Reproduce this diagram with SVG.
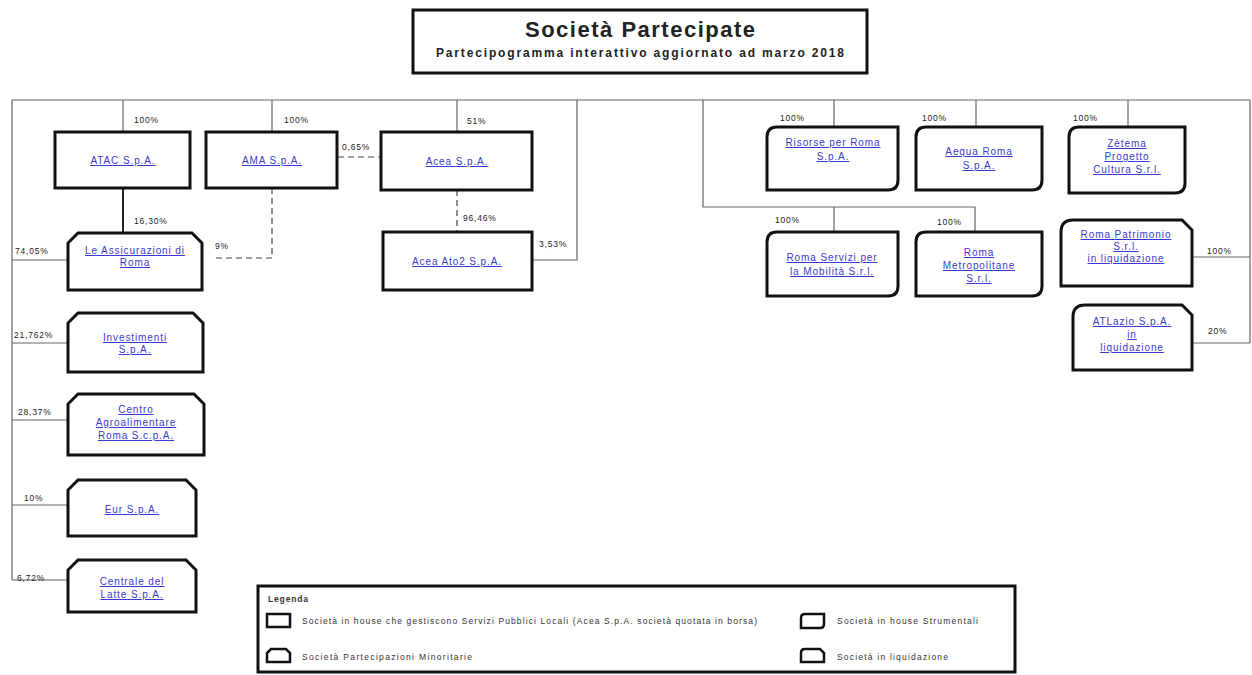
<svg xmlns="http://www.w3.org/2000/svg" width="1252" height="675" viewBox="0 0 1252 675">
<style>
.bg{fill:#fff}
.node{fill:#fff;stroke:#111;stroke-width:3}
.ln{fill:none;stroke:#666;stroke-width:1.2}
.lnd{fill:none;stroke:#444;stroke-width:1.2;stroke-dasharray:6,4}
.lnk{fill:none;stroke:#222;stroke-width:2}
.t{font-family:"Liberation Sans",Arial,sans-serif;font-size:10px;letter-spacing:0.9px;fill:#3a3ad0;text-decoration:underline;text-anchor:middle}
.p{font-family:"Liberation Sans",Arial,sans-serif;font-size:8.5px;letter-spacing:0.8px;fill:#222}
.lg{font-family:"Liberation Sans",Arial,sans-serif;font-size:8.5px;fill:#333}
.title{font-family:"Liberation Sans",Arial,sans-serif;font-weight:bold;fill:#222;text-anchor:middle}
</style>
<rect class="bg" x="0" y="0" width="1252" height="675"/>

<g id="title">
<rect x="413" y="10" width="454" height="63" fill="#fff" stroke="#111" stroke-width="3"/>
<text class="title" x="640" y="37" font-size="22" textLength="230" lengthAdjust="spacing">Società Partecipate</text>
<text class="title" x="640" y="57" font-size="12" textLength="408" lengthAdjust="spacing">Partecipogramma interattivo aggiornato ad marzo 2018</text>
</g>

<g id="connectors">
<polyline class="ln" points="12,580 12,100 1250,100 1250,343"/>
<line class="ln" x1="123" y1="100" x2="123" y2="132"/>
<line class="ln" x1="272" y1="100" x2="272" y2="132"/>
<line class="ln" x1="457" y1="100" x2="457" y2="132"/>
<polyline class="ln" points="577,100 577,260 532,260"/>
<polyline class="ln" points="703,100 703,207 975,207 975,232"/>
<line class="ln" x1="834" y1="207" x2="834" y2="232"/>
<line class="ln" x1="834" y1="100" x2="834" y2="127"/>
<line class="ln" x1="976" y1="100" x2="976" y2="127"/>
<line class="ln" x1="1128" y1="100" x2="1128" y2="127"/>
<line class="ln" x1="1192" y1="257" x2="1250" y2="257"/>
<line class="ln" x1="1192" y1="343" x2="1250" y2="343"/>
<line class="ln" x1="12" y1="260" x2="68" y2="260"/>
<line class="ln" x1="12" y1="343" x2="68" y2="343"/>
<line class="ln" x1="12" y1="420" x2="68" y2="420"/>
<line class="ln" x1="12" y1="505" x2="68" y2="505"/>
<line class="ln" x1="12" y1="580" x2="68" y2="580"/>
<line class="lnk" x1="123" y1="188" x2="123" y2="233"/>
<polyline class="lnd" points="272,188 272,258 212,258"/>
<line class="lnd" x1="457" y1="190" x2="457" y2="232"/>
<line class="lnd" x1="338" y1="157" x2="381" y2="157"/>
<text class="p" x="134" y="123">100%</text>
<text class="p" x="284" y="123">100%</text>
<text class="p" x="467" y="124">51%</text>
<text class="p" x="342" y="150">0,65%</text>
<text class="p" x="134" y="224">16,30%</text>
<text class="p" x="215" y="249">9%</text>
<text class="p" x="463" y="221">96,46%</text>
<text class="p" x="539" y="247">3,53%</text>
<text class="p" x="15" y="254">74,05%</text>
<text class="p" x="14" y="338">21,762%</text>
<text class="p" x="18" y="415">28,37%</text>
<text class="p" x="24" y="501">10%</text>
<text class="p" x="17" y="581">6,72%</text>
<text class="p" x="780" y="121">100%</text>
<text class="p" x="922" y="121">100%</text>
<text class="p" x="1073" y="121">100%</text>
<text class="p" x="775" y="223">100%</text>
<text class="p" x="937" y="225">100%</text>
<text class="p" x="1207" y="254">100%</text>
<text class="p" x="1208" y="334">20%</text>
</g>

<g id="atac"><rect class="node" x="55" y="132" width="135" height="56"/><text class="t" x="123" y="164">ATAC S.p.A.</text></g>
<g id="ama"><rect class="node" x="206" y="132" width="131" height="56"/><text class="t" x="272" y="164">AMA S.p.A.</text></g>
<g id="acea"><rect class="node" x="381" y="132" width="151" height="58"/><text class="t" x="457" y="165">Acea S.p.A.</text></g>
<g id="acea-ato2"><rect class="node" x="383" y="232" width="149" height="58"/><text class="t" x="457" y="265">Acea Ato2 S.p.A.</text></g>

<g id="le-assicurazioni"><path class="node" d="M68,290 L68,243 L78,233 L192,233 L202,243 L202,290 Z"/><text class="t" x="135" y="254">Le Assicurazioni di</text><text class="t" x="135" y="266">Roma</text></g>
<g id="investimenti"><path class="node" d="M68,372 L68,323 L78,313 L193,313 L203,323 L203,372 Z"/><text class="t" x="135" y="341">Investimenti</text><text class="t" x="135" y="353">S.p.A.</text></g>
<g id="car"><path class="node" d="M68,455 L68,404 L78,394 L194,394 L204,404 L204,455 Z"/><text class="t" x="136" y="413">Centro</text><text class="t" x="136" y="426">Agroalimentare</text><text class="t" x="136" y="439">Roma S.c.p.A.</text></g>
<g id="eur"><path class="node" d="M68,536 L68,490 L78,480 L186,480 L196,490 L196,536 Z"/><text class="t" x="132" y="513">Eur S.p.A.</text></g>
<g id="centrale-latte"><path class="node" d="M68,612 L68,570 L78,560 L186,560 L196,570 L196,612 Z"/><text class="t" x="132" y="585">Centrale del</text><text class="t" x="132" y="598">Latte S.p.A.</text></g>

<g id="risorse"><path class="node" d="M777,127 L898,127 L898,180 Q898,190 888,190 L767,190 L767,137 Q767,127 777,127 Z"/><text class="t" x="833" y="146">Risorse per Roma</text><text class="t" x="833" y="160">S.p.A.</text></g>
<g id="aequa"><path class="node" d="M926,127 L1042,127 L1042,180 Q1042,190 1032,190 L916,190 L916,137 Q916,127 926,127 Z"/><text class="t" x="979" y="155">Aequa Roma</text><text class="t" x="979" y="169">S.p.A.</text></g>
<g id="zetema"><path class="node" d="M1079,127 L1185,127 L1185,183 Q1185,193 1175,193 L1069,193 L1069,137 Q1069,127 1079,127 Z"/><text class="t" x="1127" y="147">Zètema</text><text class="t" x="1127" y="160">Progetto</text><text class="t" x="1127" y="173">Cultura S.r.l.</text></g>
<g id="roma-servizi"><path class="node" d="M777,232 L898,232 L898,286 Q898,296 888,296 L767,296 L767,242 Q767,232 777,232 Z"/><text class="t" x="832" y="261">Roma Servizi per</text><text class="t" x="832" y="275">la Mobilità S.r.l.</text></g>
<g id="roma-metropolitane"><path class="node" d="M926,232 L1042,232 L1042,286 Q1042,296 1032,296 L916,296 L916,242 Q916,232 926,232 Z"/><text class="t" x="979" y="256">Roma</text><text class="t" x="979" y="269">Metropolitane</text><text class="t" x="979" y="282">S.r.l.</text></g>
<g id="roma-patrimonio"><path class="node" d="M1073,220 L1182,220 L1192,230 L1192,286 L1061,286 L1061,232 Q1061,220 1073,220 Z"/><text class="t" x="1126" y="238">Roma Patrimonio</text><text class="t" x="1126" y="250">S.r.l.</text><text class="t" x="1126" y="262">in liquidazione</text></g>
<g id="atlazio"><path class="node" d="M1085,305 L1182,305 L1192,315 L1192,370 L1073,370 L1073,317 Q1073,305 1085,305 Z"/><text class="t" x="1132" y="325">ATLazio S.p.A.</text><text class="t" x="1132" y="338">in</text><text class="t" x="1132" y="351">liquidazione</text></g>

<g id="legend">
<rect x="258" y="586" width="757" height="86" fill="#fff" stroke="#111" stroke-width="3"/>
<text class="lg" x="268" y="602" font-weight="bold" textLength="40" lengthAdjust="spacing">Legenda</text>
<rect x="267" y="614" width="23" height="13" fill="#fff" stroke="#111" stroke-width="2.5"/>
<text class="lg" x="302" y="624" textLength="455" lengthAdjust="spacing">Società in house che gestiscono Servizi Pubblici Locali (Acea S.p.A. società quotata in borsa)</text>
<path d="M267,662 L267,653 L271,649 L286,649 L290,653 L290,662 Z" fill="#fff" stroke="#111" stroke-width="2.5"/>
<text class="lg" x="302" y="660" textLength="170" lengthAdjust="spacing">Società Partecipazioni Minoritarie</text>
<path d="M805,614 L824,614 L824,624 Q824,628 820,628 L801,628 L801,618 Q801,614 805,614 Z" fill="#fff" stroke="#111" stroke-width="2.5"/>
<text class="lg" x="837" y="624" textLength="141" lengthAdjust="spacing">Società in house Strumentali</text>
<path d="M805,649 L820,649 L824,653 L824,662 L801,662 L801,653 Q801,649 805,649 Z" fill="#fff" stroke="#111" stroke-width="2.5"/>
<text class="lg" x="837" y="660" textLength="111" lengthAdjust="spacing">Società in liquidazione</text>
</g>
</svg>
